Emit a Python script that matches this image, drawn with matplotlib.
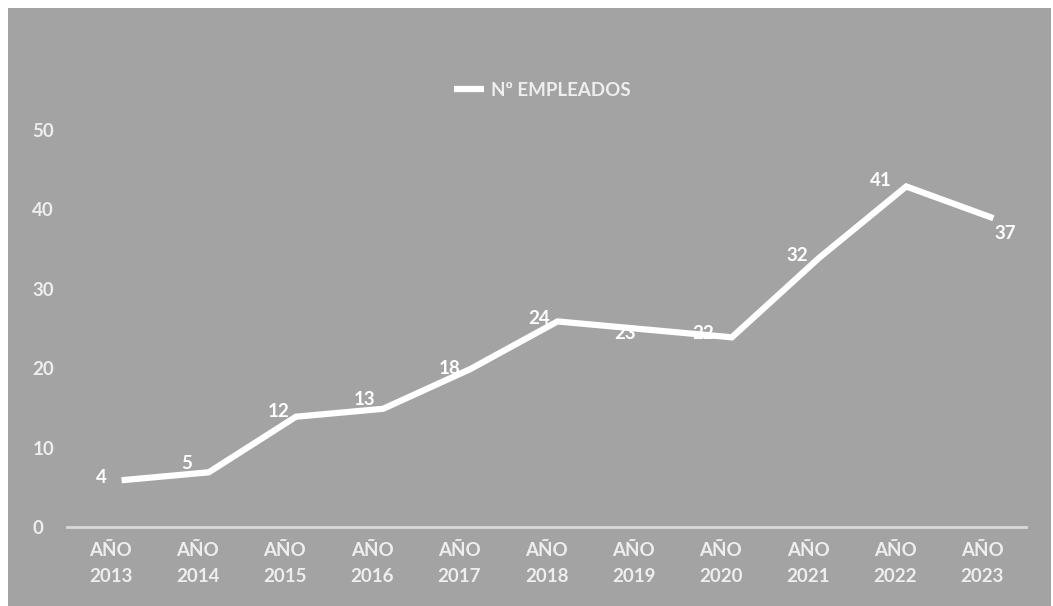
import matplotlib
matplotlib.use('Agg')
import matplotlib.pyplot as plt
import matplotlib.transforms as mtransforms
from matplotlib.patches import Rectangle

# Datos
anios = ['2013', '2014', '2015', '2016', '2017', '2018', '2019', '2020', '2021', '2022', '2023']
empleados = [4, 5, 12, 13, 18, 24, 23, 22, 32, 41, 37]
etiquetas_x = ['AÑO\n' + a for a in anios]
ticks_y = [0, 10, 20, 30, 40, 50]

# desplazamiento de cada etiqueta de datos (píxeles)
desp_etiquetas = [(-9, 18), (-11, 24), (-6, 20), (-8, 24), (-10, 16), (-7, 18),
                  (-9, 11), (-18, 19), (-11, 17), (-14, 21), (23, 0)]

plt.rcParams['font.family'] = ['Lato', 'DejaVu Sans']

fondo = '#a3a3a3'
texto_ejes = '#eeeeee'

fig = plt.figure(figsize=(10.53, 6.06), dpi=100)
fig.patch.set_facecolor('white')
# recuadro gris de la captura
fig.patches.append(Rectangle((8 / 1053, 0), (1051 - 8) / 1053, (606 - 8) / 606,
                             transform=fig.transFigure, facecolor=fondo,
                             edgecolor='none', zorder=-10))

ax = fig.add_axes([67 / 1053, (606 - 527) / 606, (1026 - 67) / 1053, (527 - 130) / 606])
ax.set_facecolor('none')
ax.set_zorder(1)

x = list(range(len(anios)))

# la línea aparece desplazada respecto a las etiquetas en el original
trans_linea = mtransforms.offset_copy(ax.transData, fig=fig, x=11, y=15, units='dots')
ax.plot(x, empleados, color='white', lw=4.5, solid_joinstyle='miter',
        solid_capstyle='butt', transform=trans_linea, zorder=3, clip_on=False,
        label='Nº EMPLEADOS')

for xi, v, (dx, dy) in zip(x, empleados, desp_etiquetas):
    ax.annotate(str(v), (xi, v), xytext=(dx, dy), textcoords='offset pixels',
                ha='center', va='center', color='white', fontsize=13.5,
                fontweight='bold', zorder=2, annotation_clip=False)

ax.set_xlim(-0.5, len(anios) - 0.5)
ax.set_ylim(0, 50)
ax.set_xticks(x)
ax.set_xticklabels(etiquetas_x, color=texto_ejes, fontsize=13.5, linespacing=1.6,
                   fontweight='bold')
ax.set_yticks(ticks_y)
ax.set_yticklabels([str(t) for t in ticks_y], color=texto_ejes, fontsize=13.5, ha='left',
                   fontweight='bold')
ax.tick_params(axis='x', length=0, pad=11)
ax.tick_params(axis='y', length=0, pad=25)

for s in ['top', 'right', 'left']:
    ax.spines[s].set_visible(False)
ax.spines['bottom'].set_color('#d9d9d9')
ax.spines['bottom'].set_linewidth(2)

leg = ax.legend(loc='center', bbox_to_anchor=(0.515, 1 - 90 / 606),
                bbox_transform=fig.transFigure, frameon=False,
                prop={'size': 13.5, 'weight': 'bold'},
                handlelength=1.6, handletextpad=0.35)
for t in leg.get_texts():
    t.set_color(texto_ejes)

fig.savefig('out.png', dpi=100, facecolor=fig.get_facecolor())
